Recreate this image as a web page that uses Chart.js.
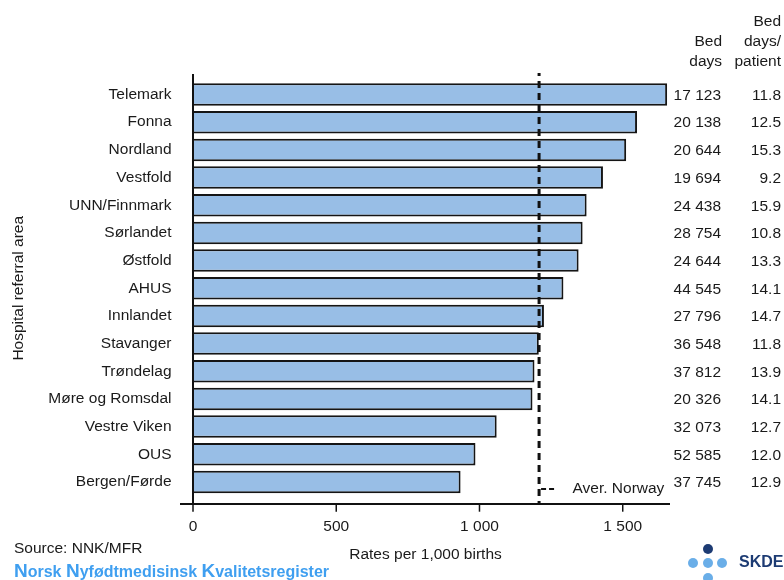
<!DOCTYPE html>
<html>
<head>
<meta charset="utf-8">
<script src="https://cdn.jsdelivr.net/npm/chart.js@4"></script>
<style>
  html, body { margin: 0; padding: 0; background: #fff; }
  #c { display: block; }
</style>
</head>
<body>
<canvas id="c" width="784" height="580"></canvas>
<script>
const categories = ['Telemark','Fonna','Nordland','Vestfold','UNN/Finnmark','Sørlandet','Østfold','AHUS','Innlandet','Stavanger','Trøndelag','Møre og Romsdal','Vestre Viken','OUS','Bergen/Førde'];
const rates = [1655,1550,1512,1431,1374,1360,1346,1293,1225,1207,1192,1185,1060,986,934];
const bedDays = [17123,20138,20644,19694,24438,28754,24644,44545,27796,36548,37812,20326,32073,52585,37745];
const bedDaysPerPatient = [11.8,12.5,15.3,9.2,15.9,10.8,13.3,14.1,14.7,11.8,13.9,14.1,12.7,12.0,12.9];
const averageNorway = 1208;
const xTicks = [0,500,1000,1500];

const FONT = 'Liberation Sans, Arial, sans-serif';
const FS = 15.5;
const TXT = '#1a1a1a';

function fmtThousands(v) {
  return String(v).replace(/\B(?=(\d{3})+(?!\d))/g, ' ');
}

const overlay = {
  id: 'overlay',
  afterDatasetsDraw(chart) {
    const ctx = chart.ctx;
    const xs = chart.scales.x, ys = chart.scales.y;
    const ca = chart.chartArea;
    const x0 = xs.getPixelForValue(0);
    const axisY = ca.bottom + 8.2;
    ctx.save();
    ctx.strokeStyle = '#111';
    ctx.lineWidth = 2;
    ctx.setLineDash([]);
    // y axis line
    ctx.beginPath();
    ctx.moveTo(x0, ca.top - 6.7);
    ctx.lineTo(x0, axisY);
    ctx.stroke();
    // x axis line
    ctx.beginPath();
    ctx.moveTo(x0 - 13, axisY);
    ctx.lineTo(xs.right, axisY);
    ctx.stroke();
    // tick marks
    ctx.lineWidth = 1.5;
    xTicks.forEach(v => {
      const px = xs.getPixelForValue(v);
      ctx.beginPath();
      ctx.moveTo(px, axisY);
      ctx.lineTo(px, axisY + 7.7);
      ctx.stroke();
    });
    // average line
    const ax = xs.getPixelForValue(averageNorway);
    ctx.lineWidth = 3;
    ctx.setLineDash([7, 5]);
    ctx.lineDashOffset = 4;
    ctx.beginPath();
    ctx.moveTo(ax, ca.top - 7.7);
    ctx.lineTo(ax, axisY);
    ctx.stroke();
    // legend for average
    const ly = ys.getPixelForValue(categories.length - 1) + 7;
    ctx.lineWidth = 2;
    ctx.setLineDash([5, 3]);
    ctx.lineDashOffset = 0;
    ctx.beginPath();
    ctx.moveTo(ax + 2, ly);
    ctx.lineTo(ax + 18, ly);
    ctx.stroke();
    ctx.setLineDash([]);
    ctx.fillStyle = TXT;
    ctx.font = FS + 'px ' + FONT;
    ctx.textBaseline = 'middle';
    ctx.textAlign = 'left';
    ctx.fillText('Aver. Norway', ax + 33.4, ly);

    // table columns
    ctx.textAlign = 'right';
    categories.forEach((c, i) => {
      const py = ys.getPixelForValue(i) + 1;
      ctx.fillText(fmtThousands(bedDays[i]), 721, py);
      ctx.fillText(bedDaysPerPatient[i].toFixed(1), 781, py);
    });
    ctx.fillText('Bed', 722, 42);
    ctx.fillText('days', 722, 62);
    ctx.fillText('Bed', 781, 22);
    ctx.fillText('days/', 781, 42);
    ctx.fillText('patient', 781, 62);

    // x axis title
    ctx.textAlign = 'center';
    ctx.fillText('Rates per 1,000 births', 425.5, 555);

    // source
    ctx.textAlign = 'left';
    ctx.fillText('Source: NNK/MFR', 14, 549);

    // registry footer
    const parts = [['N',19],['orsk ',16],['N',19],['yfødtmedisinsk ',16],['K',19],['valitetsregister',16]];
    let fx = 14;
    ctx.fillStyle = '#3f9ff0';
    ctx.textBaseline = 'alphabetic';
    parts.forEach(([t, s]) => {
      ctx.font = 'bold ' + s + 'px ' + FONT;
      ctx.fillText(t, fx, 577);
      fx += ctx.measureText(t).width;
    });

    // SKDE logo
    const navy = '#1d3b73', light = '#6aaee8';
    const dot = (x, y, col) => { ctx.fillStyle = col; ctx.beginPath(); ctx.arc(x, y, 5, 0, Math.PI * 2); ctx.fill(); };
    dot(708, 549, navy);
    dot(693, 563, light);
    dot(708, 563, light);
    dot(722, 563, light);
    dot(708, 578, light);
    ctx.fillStyle = navy;
    ctx.font = 'bold 16px ' + FONT;
    ctx.textBaseline = 'middle';
    ctx.textAlign = 'left';
    ctx.fillText('SKDE', 739, 563);
    ctx.restore();
  }
};

new Chart(document.getElementById('c'), {
  type: 'bar',
  data: {
    labels: categories,
    datasets: [{
      data: rates,
      backgroundColor: '#98bee6',
      borderColor: '#151515',
      borderWidth: 2,
      categoryPercentage: 1,
      barPercentage: 0.813
    }]
  },
  options: {
    indexAxis: 'y',
    responsive: false,
    animation: false,
    devicePixelRatio: 1,
    layout: { padding: { top: 80.7, right: 114, bottom: 0, left: 0 } },
    plugins: { legend: { display: false }, tooltip: { enabled: false } },
    scales: {
      x: {
        type: 'linear',
        min: 0,
        max: 1665,
        afterBuildTicks: s => { s.ticks = xTicks.map(v => ({ value: v })); },
        afterFit: s => { s.height = 580 - 495.8; },
        grid: { display: false, drawTicks: false },
        border: { display: false },
        ticks: {
          padding: 21.6,
          color: TXT,
          font: { family: FONT, size: FS },
          maxRotation: 0,
          callback: v => fmtThousands(v)
        }
      },
      y: {
        type: 'category',
        afterFit: s => { s.width = 193; },
        grid: { display: false, drawTicks: false },
        border: { display: false },
        ticks: {
          padding: 21.5,
          color: TXT,
          font: { family: FONT, size: FS },
          autoSkip: false
        },
        title: {
          display: true,
          text: 'Hospital referral area',
          color: TXT,
          font: { family: FONT, size: FS },
          padding: { top: 9, bottom: 0 }
        }
      }
    }
  },
  plugins: [overlay]
});
</script>
</body>
</html>
